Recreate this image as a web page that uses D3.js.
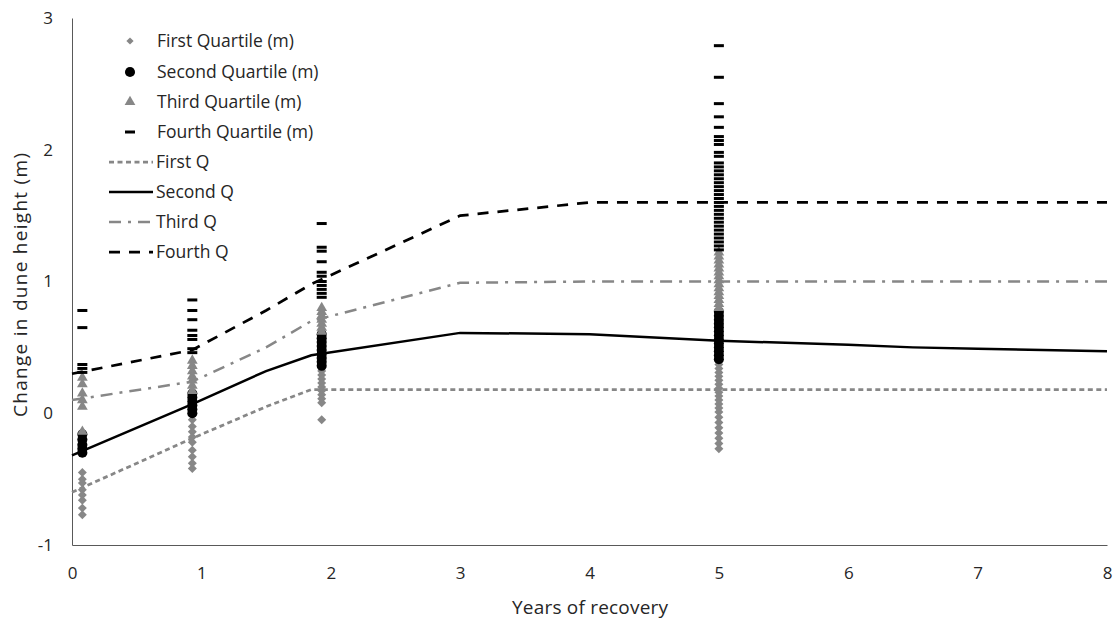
<!DOCTYPE html>
<html>
<head>
<meta charset="utf-8">
<script src="https://cdn.jsdelivr.net/npm/d3@7"></script>
<style>
body { margin: 0; background: #fff; }
text { font-family: "Open Sans", sans-serif; fill: #262626; }
</style>
</head>
<body>
<svg width="1118" height="622"></svg>
<script>
// scatter columns (x position of each sampling year)
var colX = [0.08, 0.93, 1.93, 5.0];

// First Quartile (m) - diamonds
var q1Pts = [
	[-0.45, -0.5, -0.53, -0.58, -0.62, -0.66, -0.72, -0.77],
	[0.02, -0.05, -0.1, -0.14, -0.18, -0.22, -0.28, -0.33, -0.38, -0.42],
	[0.35, 0.32, 0.29, 0.26, 0.23, 0.2, 0.17, 0.14, 0.11, 0.08, -0.05],
	[0.4, 0.37, 0.34, 0.31, 0.28, 0.25, 0.22, 0.19, 0.16, 0.13, 0.1, 0.07, 0.04, 0.01, -0.03, -0.07, -0.11, -0.15, -0.19, -0.23, -0.27]
];
// Second Quartile (m) - circles
var q2Pts = [
	[-0.16, -0.2, -0.24, -0.27, -0.3],
	[0.15, 0.12, 0.09, 0.06, 0.03, 0.0],
	[0.6, 0.57, 0.54, 0.51, 0.48, 0.45, 0.42, 0.39, 0.36],
	[0.77, 0.74, 0.71, 0.68, 0.65, 0.62, 0.59, 0.56, 0.53, 0.5, 0.47, 0.44, 0.41]
];
// Third Quartile (m) - triangles
var q3Pts = [
	[0.27, 0.22, 0.15, 0.1, 0.05, -0.14],
	[0.4, 0.36, 0.32, 0.28, 0.25, 0.21, 0.17],
	[0.8, 0.77, 0.74, 0.71, 0.68, 0.65, 0.62],
	[1.22, 1.19, 1.16, 1.13, 1.1, 1.07, 1.04, 1.01, 0.98, 0.95, 0.92, 0.89, 0.86, 0.83, 0.8]
];
// Fourth Quartile (m) - dashes
var q4Pts = [
	[0.78, 0.65, 0.37, 0.34, 0.31],
	[0.86, 0.78, 0.71, 0.63, 0.59, 0.56, 0.49, 0.46],
	[1.44, 1.26, 1.23, 1.15, 1.07, 1.04, 1.0, 0.97, 0.94, 0.91, 0.88],
	[2.79, 2.55, 2.35, 2.25, 2.17, 2.1, 2.07, 2.04, 1.98, 1.95, 1.9, 1.87, 1.84, 1.81, 1.78, 1.75, 1.72, 1.69, 1.66, 1.63, 1.6, 1.57, 1.54, 1.51, 1.48, 1.45, 1.42, 1.39, 1.36, 1.33, 1.3, 1.27, 1.24]
];

// trend lines
var lineYears = [0, 0.93, 1.5, 1.85, 3, 4, 5, 6, 6.5, 7, 8];
var firstQ  = [-0.6, -0.19, 0.05, 0.18, 0.18, 0.18, 0.18, 0.18, 0.18, 0.18, 0.18];
var secondQ = [-0.32, 0.07, 0.32, 0.44, 0.61, 0.6, 0.55, 0.52, 0.5, 0.49, 0.47];
var thirdQ  = [0.1, 0.24, 0.5, 0.7, 0.99, 1.0, 1.0, 1.0, 1.0, 1.0, 1.0];
var fourthQ = [0.3, 0.48, 0.78, 0.98, 1.5, 1.6, 1.6, 1.6, 1.6, 1.6, 1.6];

var xTicks = [0, 1, 2, 3, 4, 5, 6, 7, 8];
var yTicks = [-1, 0, 1, 2, 3];

var gray = "#878787";

var svg = d3.select("svg");
var x = d3.scaleLinear().domain([0, 8]).range([72, 1107]);
var y = d3.scaleLinear().domain([-1, 3]).range([545, 18]);

// axes
svg.append("g")
	.attr("transform", "translate(0,545)")
	.call(d3.axisBottom(x).tickValues(xTicks).tickSize(0).tickPadding(22))
	.call(function(g){ g.select(".domain").attr("stroke", "#595959"); })
	.selectAll("text").attr("font-size", "17px").attr("fill", "#262626");

svg.append("g")
	.attr("transform", "translate(72,0)")
	.call(d3.axisLeft(y).tickValues(yTicks).tickFormat(function(d){ return String(d); }).tickSize(0).tickPadding(19))
	.call(function(g){ g.select(".domain").attr("stroke", "#595959"); })
	.selectAll("text").attr("font-size", "17px").attr("fill", "#262626");

svg.append("text")
	.attr("x", 590).attr("y", 614)
	.attr("text-anchor", "middle")
	.attr("font-size", "19px")
	.attr("textLength", 156)
	.text("Years of recovery");

svg.append("text")
	.attr("transform", "translate(27,285) rotate(-90)")
	.attr("text-anchor", "middle")
	.attr("font-size", "19px")
	.attr("textLength", 264)
	.text("Change in dune height (m)");

// markers
var sym = {
	diamond: d3.symbol().type(d3.symbolSquare).size(40),
	circle: d3.symbol().type(d3.symbolCircle).size(80),
	triangle: d3.symbol().type(d3.symbolTriangle).size(50)
};

function flat(cols) {
	var out = [];
	cols.forEach(function(vals, i) {
		vals.forEach(function(v) { out.push({ t: colX[i], v: v }); });
	});
	return out;
}

svg.append("g").selectAll("path").data(flat(q1Pts)).enter().append("path")
	.attr("d", sym.diamond)
	.attr("transform", function(d) { return "translate(" + x(d.t) + "," + y(d.v) + ") rotate(45)"; })
	.attr("fill", gray);

svg.append("g").selectAll("path").data(flat(q2Pts)).enter().append("path")
	.attr("d", sym.circle)
	.attr("transform", function(d) { return "translate(" + x(d.t) + "," + y(d.v) + ")"; })
	.attr("fill", "#000");

svg.append("g").selectAll("path").data(flat(q3Pts)).enter().append("path")
	.attr("d", sym.triangle)
	.attr("transform", function(d) { return "translate(" + x(d.t) + "," + y(d.v) + ")"; })
	.attr("fill", gray);

svg.append("g").selectAll("rect").data(flat(q4Pts)).enter().append("rect")
	.attr("x", function(d) { return x(d.t) - 5; })
	.attr("y", function(d) { return y(d.v) - 1.5; })
	.attr("width", 10).attr("height", 3)
	.attr("fill", "#000");

// lines
var lineStyles = [
	{ vals: firstQ,  color: gray,   w: 2.75, dash: "5,3.5" },
	{ vals: secondQ, color: "#000", w: 2.5,  dash: null },
	{ vals: thirdQ,  color: gray,   w: 2.5,  dash: "12,7,3,7" },
	{ vals: fourthQ, color: "#000", w: 2.75, dash: "11,9" }
];

var line = d3.line()
	.x(function(d, i) { return x(lineYears[i]); })
	.y(function(d) { return y(d); });

lineStyles.forEach(function(s) {
	svg.append("path")
		.attr("d", line(s.vals))
		.attr("fill", "none")
		.attr("stroke", s.color)
		.attr("stroke-width", s.w)
		.attr("stroke-dasharray", s.dash);
});

// legend
var legY = [41, 72, 102, 132, 162, 192, 222, 252];
var legText = ["First Quartile (m)", "Second Quartile (m)", "Third Quartile (m)", "Fourth Quartile (m)",
	"First Q", "Second Q", "Third Q", "Fourth Q"];
var leg = svg.append("g");

leg.selectAll("text").data(legText).enter().append("text")
	.attr("x", function(d, i) { return i < 4 ? 157 : 156; })
	.attr("y", function(d, i) { return legY[i] + 6; })
	.attr("font-size", "17.5px")
	.text(function(d) { return d; });

leg.append("path").attr("d", d3.symbol().type(d3.symbolSquare).size(26))
	.attr("transform", "translate(130," + legY[0] + ") rotate(45)").attr("fill", gray);
leg.append("path").attr("d", sym.circle).attr("transform", "translate(130," + legY[1] + ")").attr("fill", "#000");
leg.append("path").attr("d", sym.triangle).attr("transform", "translate(130," + legY[2] + ")").attr("fill", gray);
leg.append("rect").attr("x", 125).attr("y", legY[3] - 1.5).attr("width", 10).attr("height", 3).attr("fill", "#000");

lineStyles.forEach(function(s, i) {
	leg.append("line")
		.attr("x1", 109).attr("x2", 153)
		.attr("y1", legY[4 + i]).attr("y2", legY[4 + i])
		.attr("stroke", s.color)
		.attr("stroke-width", s.w)
		.attr("stroke-dasharray", s.dash);
});
</script>
</body>
</html>
